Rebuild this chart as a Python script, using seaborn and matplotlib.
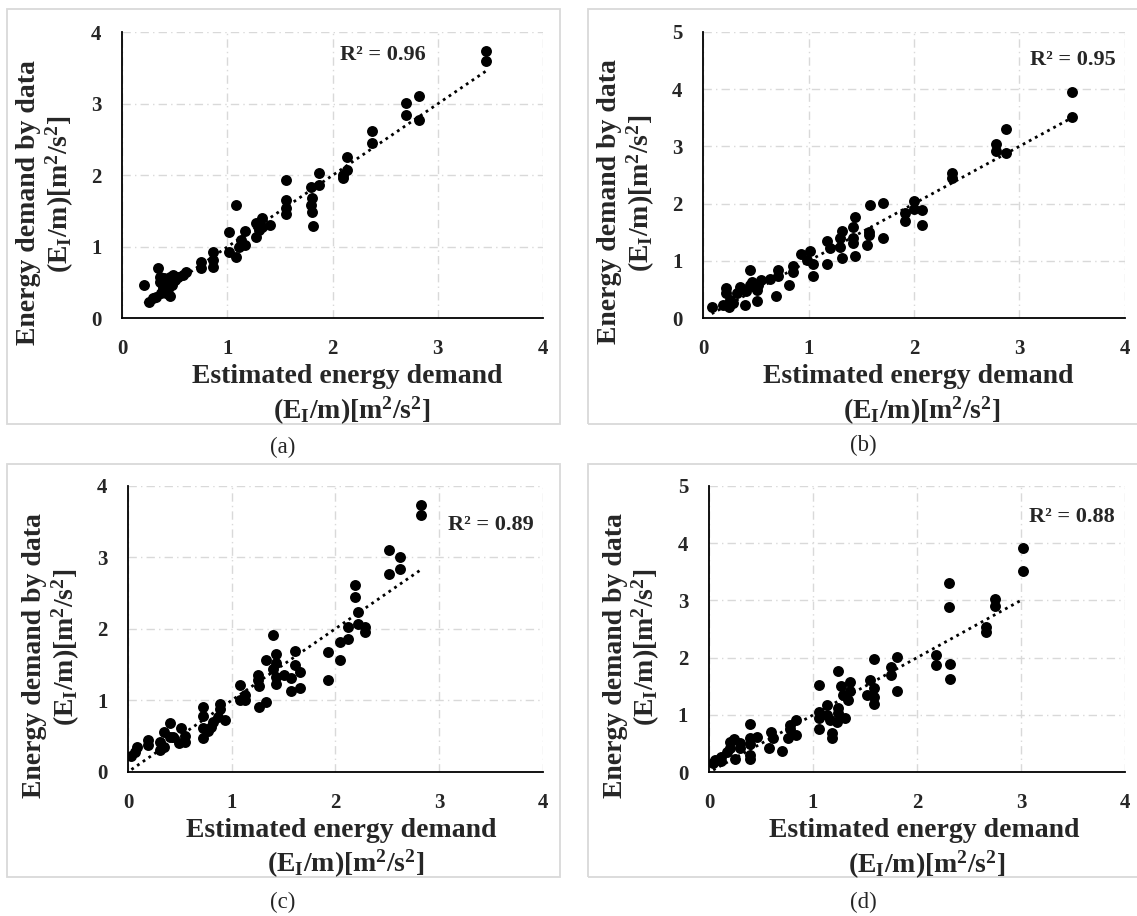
import matplotlib
matplotlib.use('Agg')
import matplotlib.pyplot as plt
from matplotlib.patches import Rectangle
import seaborn as sns

# estimated (x) and data (y) energy demand for the four cases
est_a = [3.46, 3.46, 2.70, 2.70, 2.82, 2.82, 2.37, 2.37, 2.14, 2.14,
         2.10, 2.10, 1.87, 1.87, 1.79, 1.80, 1.79, 1.80, 1.81, 1.56,
         1.56, 1.56, 1.56, 1.08, 1.01, 1.01, 1.08, 1.17, 1.13, 1.17,
         1.11, 1.27, 1.33, 1.30, 1.40, 1.27, 1.33, 0.86, 0.86, 0.86,
         0.75, 0.75, 0.61, 0.58, 0.53, 0.48, 0.34, 0.36, 0.39, 0.42,
         0.45, 0.37, 0.32, 0.29, 0.25, 0.21, 0.42, 0.47, 0.36, 0.40,
         0.50, 0.45, 0.39, 0.43]
dat_a = [3.74, 3.60, 3.01, 2.84, 3.11, 2.78, 2.62, 2.45, 2.26, 2.08,
         2.00, 1.96, 2.03, 1.86, 1.83, 1.68, 1.59, 1.49, 1.29, 1.93,
         1.66, 1.54, 1.46, 1.58, 1.21, 0.93, 0.86, 1.22, 1.10, 1.03,
         1.00, 1.33, 1.40, 1.24, 1.31, 1.14, 1.28, 0.93, 0.82, 0.72,
         0.79, 0.70, 0.65, 0.61, 0.58, 0.61, 0.70, 0.51, 0.44, 0.35,
         0.31, 0.35, 0.30, 0.28, 0.23, 0.46, 0.49, 0.47, 0.58, 0.56,
         0.54, 0.58, 0.40, 0.41]

est_b = [3.50, 3.50, 2.87, 2.87, 2.78, 2.78, 2.36, 2.36, 2.00, 2.00,
         1.91, 1.91, 2.08, 2.08, 1.71, 1.71, 1.58, 1.57, 1.57, 1.55,
         1.44, 1.42, 1.42, 1.42, 1.44, 1.32, 1.30, 1.30, 1.32, 1.17,
         1.20, 1.17, 1.01, 0.93, 0.98, 1.04, 1.04, 0.85, 0.85, 0.81,
         0.71, 0.71, 0.63, 0.69, 0.55, 0.52, 0.51, 0.51, 0.44, 0.44,
         0.41, 0.40, 0.35, 0.32, 0.22, 0.22, 0.25, 0.28, 0.24, 0.19,
         0.08, 0.46, 0.49]
dat_b = [3.94, 3.52, 3.31, 2.88, 3.04, 2.91, 2.53, 2.44, 2.05, 1.90,
         1.83, 1.69, 1.89, 1.63, 2.02, 1.40, 1.97, 1.51, 1.45, 1.28,
         1.76, 1.59, 1.40, 1.31, 1.08, 1.53, 1.40, 1.24, 1.05, 1.35,
         1.22, 0.94, 1.18, 1.12, 1.02, 0.94, 0.74, 0.91, 0.81, 0.58,
         0.84, 0.73, 0.68, 0.39, 0.67, 0.58, 0.49, 0.30, 0.84, 0.58,
         0.47, 0.23, 0.55, 0.44, 0.52, 0.44, 0.32, 0.26, 0.19, 0.23,
         0.19, 0.64, 0.55]

est_c = [2.83, 2.83, 2.52, 2.52, 2.62, 2.62, 2.19, 2.19, 2.22, 2.22,
         2.29, 2.29, 2.12, 2.12, 2.04, 2.04, 1.93, 1.93, 1.61, 1.61,
         1.66, 1.66, 1.57, 1.57, 1.50, 1.40, 1.43, 1.43, 1.40, 1.43,
         1.43, 1.33, 1.25, 1.25, 1.26, 1.26, 1.33, 1.08, 1.08, 1.13,
         1.13, 0.89, 0.89, 0.93, 0.87, 0.72, 0.72, 0.72, 0.72, 0.82,
         0.80, 0.77, 0.51, 0.55, 0.55, 0.49, 0.40, 0.40, 0.34, 0.43,
         0.31, 0.34, 0.31, 0.19, 0.19, 0.08, 0.06, 0.03]
dat_c = [3.73, 3.59, 3.10, 2.77, 3.00, 2.83, 2.61, 2.45, 2.24, 2.07,
         2.03, 1.95, 2.02, 1.85, 1.82, 1.56, 1.67, 1.28, 1.69, 1.49,
         1.40, 1.17, 1.31, 1.13, 1.35, 1.91, 1.65, 1.52, 1.44, 1.33,
         1.22, 1.56, 1.35, 1.28, 1.20, 0.91, 0.98, 1.21, 1.00, 1.07,
         1.00, 0.95, 0.87, 0.72, 0.77, 0.90, 0.78, 0.61, 0.47, 0.70,
         0.63, 0.57, 0.61, 0.50, 0.42, 0.40, 0.68, 0.49, 0.56, 0.49,
         0.42, 0.34, 0.31, 0.44, 0.37, 0.34, 0.28, 0.22]

est_d = [3.02, 3.02, 2.31, 2.31, 2.32, 2.32, 2.75, 2.75, 2.66, 2.66,
         2.18, 2.18, 1.81, 1.81, 1.75, 1.75, 1.59, 1.55, 1.59, 1.59,
         1.59, 1.52, 1.36, 1.36, 1.34, 1.29, 1.27, 1.24, 1.24, 1.24,
         1.31, 1.23, 1.13, 1.13, 1.16, 1.18, 1.18, 1.06, 1.06, 1.06,
         1.06, 0.84, 0.84, 0.78, 0.78, 0.76, 0.70, 0.60, 0.62, 0.58,
         0.46, 0.39, 0.39, 0.39, 0.39, 0.39, 0.30, 0.30, 0.24, 0.20,
         0.20, 0.25, 0.17, 0.12, 0.12, 0.06, 0.04]
dat_d = [3.92, 3.52, 3.31, 2.88, 1.89, 1.63, 3.03, 2.90, 2.54, 2.44,
         2.05, 1.88, 2.02, 1.41, 1.83, 1.69, 1.97, 1.61, 1.47, 1.31,
         1.20, 1.35, 1.58, 1.41, 1.26, 1.35, 1.51, 1.77, 1.12, 1.03,
         0.94, 0.88, 1.17, 1.00, 0.91, 0.68, 0.60, 1.52, 1.06, 0.94,
         0.75, 0.91, 0.65, 0.83, 0.75, 0.59, 0.38, 0.71, 0.60, 0.43,
         0.62, 0.84, 0.59, 0.49, 0.30, 0.23, 0.51, 0.42, 0.58, 0.53,
         0.42, 0.23, 0.36, 0.27, 0.19, 0.22, 0.16]

r2_labels = ['R² = 0.96', 'R² = 0.95', 'R² = 0.89', 'R² = 0.88']
r2_pos = [(2.48, 3.68), (3.51, 4.51), (3.50, 3.45), (3.49, 4.46)]
captions = ['(a)', '(b)', '(c)', '(d)']
y_tops = [4, 5, 4, 5]
x_top = 4
xlabel1 = 'Estimated energy demand'
ylabel1 = 'Energy demand by data'
unit_label = r'(E$_\mathrm{I}$/m)[m$^\mathrm{2}$/s$^\mathrm{2}$]'

sns.set_style('white')
plt.rcParams['font.family'] = ['Liberation Serif', 'DejaVu Serif']
plt.rcParams['font.weight'] = 'bold'
plt.rcParams['mathtext.fontset'] = 'custom'
plt.rcParams['mathtext.rm'] = 'Liberation Serif:bold'
plt.rcParams['mathtext.it'] = 'Liberation Serif:bold'
plt.rcParams['mathtext.bf'] = 'Liberation Serif:bold'

W, H = 1137, 916
fig = plt.figure(figsize=(W / 100, H / 100), dpi=100)


def fx(x):
    return x / W


def fy(y):
    return 1 - y / H


# pixel layout: axes box (left, top, right, bottom), frame box, caption centre
axes_px = [(122.3, 32.3, 543.0, 318.3), (703.3, 31.7, 1124.7, 318.3),
           (128.3, 485.7, 542.6, 771.7), (709.0, 485.7, 1125.0, 772.3)]
frames_px = [(6.5, 9.3, 559.5, 424.0), (588.3, 9.3, 1141.0, 424.0),
             (6.5, 464.0, 559.5, 877.0), (588.3, 464.0, 1141.0, 877.0)]
caption_px = [(283, 447), (863.6, 445), (283, 902), (863.6, 902)]
xlab_off = [(225, 229), (215, 218), (213, 217), (215, 218)]

panels = [(est_a, dat_a), (est_b, dat_b), (est_c, dat_c), (est_d, dat_d)]

for i, (est, dat) in enumerate(panels):
    l, t, r, b = axes_px[i]
    ax = fig.add_axes([fx(l), fy(b), (r - l) / W, (b - t) / H])

    lo, hi = min(est), max(est)
    sns.lineplot(x=[lo, hi], y=[lo, hi], ax=ax, color='black', lw=2,
                 linestyle=(0, (1, 1.5)), zorder=2)
    sns.scatterplot(x=est, y=dat, ax=ax, color='black', s=62, linewidth=0, zorder=3)

    ax.set_xlim(0, x_top)
    ax.set_ylim(0, y_tops[i])
    ax.set_xticks(range(x_top + 1))
    ax.set_yticks(range(y_tops[i] + 1))
    ax.grid(True, color='#d9d9d9', lw=1, linestyle=(0, (6, 3, 1, 3)))
    ax.set_axisbelow(True)
    for s in ['top', 'right']:
        ax.spines[s].set_visible(False)
    for s in ['left', 'bottom']:
        ax.spines[s].set_color('black')
        ax.spines[s].set_linewidth(1.3)
    ax.tick_params(length=0, pad=15, labelsize=15)
    ax.set_xlabel('')
    ax.set_ylabel('')

    ax.text(r2_pos[i][0], r2_pos[i][1], r2_labels[i], ha='center', va='center',
            fontsize=16, fontweight='bold')

    # axis titles
    o1, o2 = xlab_off[i]
    fig.text(fx(l + o1), fy(b + 65), xlabel1, ha='center', va='baseline', fontsize=20)
    fig.text(fx(l + o2), fy(b + 100), unit_label, ha='center', va='baseline', fontsize=20)
    fig.text(fx(l - 87.5), fy(t + 170), ylabel1, ha='center', va='baseline',
             rotation=90, rotation_mode='anchor', fontsize=20)
    fig.text(fx(l - 55), fy(t + 162), unit_label, ha='center', va='baseline',
             rotation=90, rotation_mode='anchor', fontsize=20)

    fl, ft, fr, fb = frames_px[i]
    fig.add_artist(Rectangle((fx(fl), fy(fb)), (fr - fl) / W, (fb - ft) / H,
                             transform=fig.transFigure, fill=False,
                             edgecolor='#d9d9d9', lw=1.3))
    fig.text(fx(caption_px[i][0]), fy(caption_px[i][1]), captions[i],
             ha='center', va='center', fontsize=16.5, fontweight='normal')

fig.savefig('out.png', dpi=100)
